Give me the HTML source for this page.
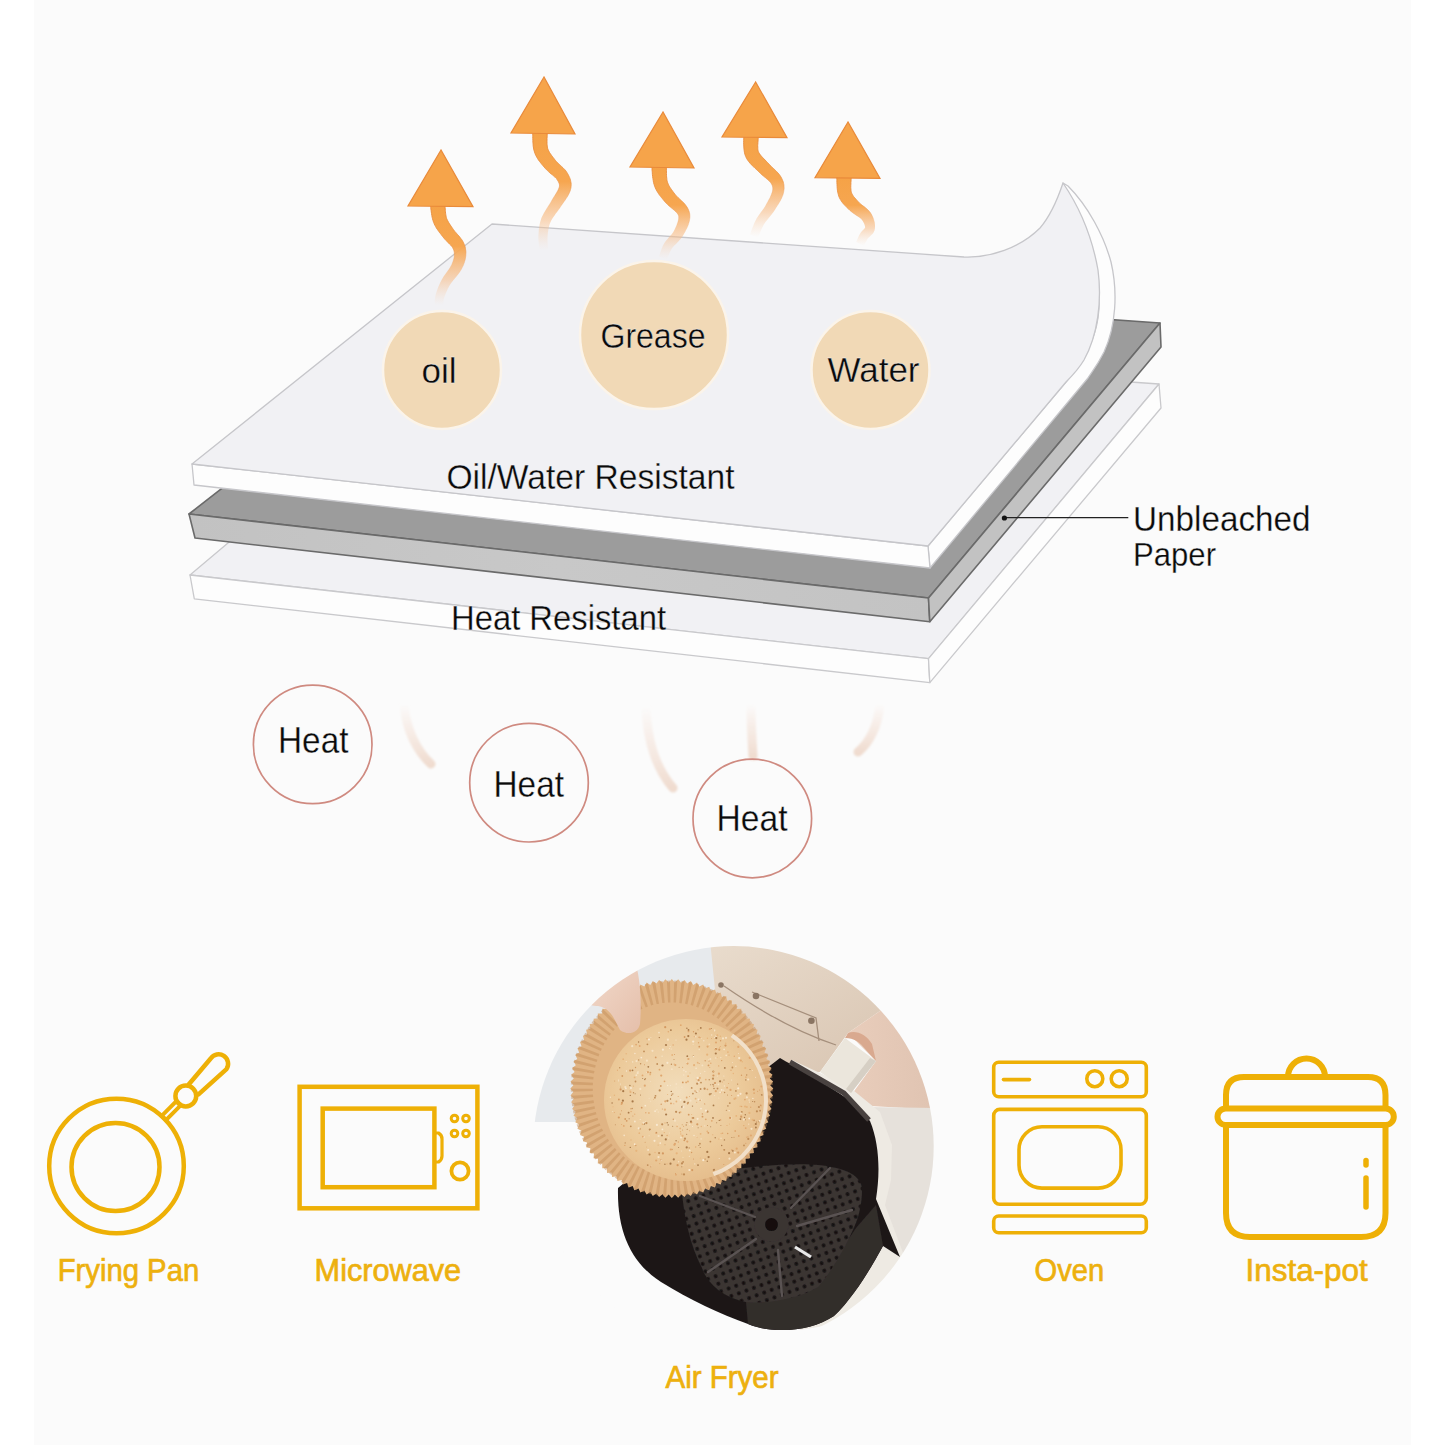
<!DOCTYPE html>
<html><head><meta charset="utf-8">
<style>
html,body{margin:0;padding:0;background:#ffffff;width:1445px;height:1445px;overflow:hidden}
svg{display:block;position:absolute;left:0;top:0}
text{font-family:"Liberation Sans",sans-serif}
</style></head>
<body>
<svg width="1445" height="1445" viewBox="0 0 1445 1445">
<defs>
  <linearGradient id="stemfade" x1="0" y1="0" x2="0" y2="1">
    <stop offset="0" stop-color="#f5a043" stop-opacity="1"/>
    <stop offset="0.45" stop-color="#f6a650" stop-opacity="0.95"/>
    <stop offset="1" stop-color="#f8c8a0" stop-opacity="0"/>
  </linearGradient>
  <linearGradient id="grayfront" x1="0" y1="0" x2="1" y2="0">
    <stop offset="0" stop-color="#c2c2c2"/>
    <stop offset="0.5" stop-color="#c8c8c8"/>
    <stop offset="1" stop-color="#c3c3c3"/>
  </linearGradient>
  <linearGradient id="wavegrad" x1="0" y1="0" x2="0" y2="1">
    <stop offset="0" stop-color="#f6e4da" stop-opacity="0"/>
    <stop offset="0.45" stop-color="#f5e6de" stop-opacity="0.7"/>
    <stop offset="1" stop-color="#efdacd" stop-opacity="0.95"/>
  </linearGradient>
  <filter id="softblur" x="-50%" y="-20%" width="200%" height="140%"><feGaussianBlur stdDeviation="1.1"/></filter>
  <linearGradient id="stemfade2" x1="0" y1="0" x2="0" y2="1">
    <stop offset="0" stop-color="#f5a246" stop-opacity="1"/>
    <stop offset="0.42" stop-color="#f6a650" stop-opacity="1"/>
    <stop offset="0.75" stop-color="#f7bb85" stop-opacity="0.55"/>
    <stop offset="1" stop-color="#f9d5b8" stop-opacity="0"/>
  </linearGradient>
  <linearGradient id="stemline" x1="0" y1="0" x2="0" y2="1">
    <stop offset="0" stop-color="#e88a38" stop-opacity="1"/>
    <stop offset="0.45" stop-color="#ea9448" stop-opacity="0.7"/>
    <stop offset="0.7" stop-color="#f0b080" stop-opacity="0"/>
  </linearGradient>
  <filter id="photoblur" x="-5%" y="-5%" width="110%" height="110%"><feGaussianBlur stdDeviation="0.7"/></filter>
  <clipPath id="photoclip"><circle cx="733.5" cy="1146.3" r="200.2"/></clipPath>
  <linearGradient id="aprongrad" x1="0" y1="0" x2="1" y2="1">
    <stop offset="0" stop-color="#e9dccd"/><stop offset="1" stop-color="#d6c1ad"/>
  </linearGradient>
  <linearGradient id="armgrad" x1="0" y1="0" x2="1" y2="0">
    <stop offset="0" stop-color="#e9cdbb"/><stop offset="1" stop-color="#dfc3b1"/>
  </linearGradient>
  <linearGradient id="handgrad" x1="0" y1="0" x2="1" y2="1">
    <stop offset="0" stop-color="#f3ddd0"/><stop offset="1" stop-color="#e5bfaa"/>
  </linearGradient>
  <radialGradient id="toastgrad" cx="0.45" cy="0.45" r="0.6">
    <stop offset="0" stop-color="#f2ddbb"/><stop offset="0.65" stop-color="#ecca9a"/><stop offset="1" stop-color="#e4bb8a"/>
  </radialGradient>
  <pattern id="perf" x="0" y="0" width="8" height="8" patternUnits="userSpaceOnUse" patternTransform="rotate(-20)">
    <rect width="8" height="8" fill="#3a3432"/><circle cx="4" cy="4" r="1.9" fill="#151111"/>
  </pattern>
</defs>
<rect x="0" y="0" width="1445" height="1445" fill="#ffffff"/>
<rect x="34" y="0" width="1377" height="1445" fill="#fbfbfb"/>

<!-- ===== Bottom layer (heat resistant) ===== -->
<g stroke="#c9c9cc" stroke-width="1.3" stroke-linejoin="round">
  <polygon points="190,575 474,336 1159,384 928.5,658.7" fill="#f1f1f4"/>
  <polygon points="190,575 928.5,658.7 929.8,682.6 194.3,598.8" fill="#fdfdfd"/>
  <polygon points="928.5,658.7 1159,384 1161,408 929.8,682.6" fill="#fdfdfd"/>
</g>
<!-- ===== Gray layer ===== -->
<g stroke="#6a6a6a" stroke-width="1.6" stroke-linejoin="round">
  <polygon points="189,514 494,276 1160,323 928.5,598" fill="#9c9c9c"/>
  <polygon points="189,514 928.5,598 929.8,621.7 195,538" fill="url(#grayfront)"/>
  <polygon points="928.5,598 1160,323 1161,347 929.8,621.7" fill="#c2c2c2"/>
</g>
<!-- ===== Top layer (curled) ===== -->
<g stroke="#c6c6ca" stroke-width="1.3" stroke-linejoin="round">
  <!-- right side face band -->
  <path d="M928,546 L1066,382 C1080,366 1094,345 1098,318 C1102,290 1096,250 1082,220 L1063,183 L1068,186 C1088,206 1104,236 1111,262 C1118,292 1116,326 1104,352 C1096,368 1090,374 1088,378 L930,568 Z" fill="#fdfdfd"/>
  <!-- front face -->
  <polygon points="192,464 928,546 930,568 194,485" fill="#fdfdfd"/>
  <!-- top face -->
  <path d="M192,464 L492,224 L964,257 C990,258 1020,248 1040,228 C1052,214 1058,198 1063,183 C1078,205 1092,236 1098,270 C1102,300 1098,335 1084,360 C1078,370 1072,376 1066,382 L928,546 Z" fill="#f1f1f4"/>
</g>

<!-- ===== arrows ===== -->
<g id="arrows">
<path d="M430.4,204.9 L430.5,205.6 L430.6,206.4 L430.8,207.6 L430.9,208.9 L431.1,210.4 L431.3,212.0 L431.5,213.6 L431.8,215.3 L432.1,217.1 L432.5,218.8 L433.0,220.6 L433.6,222.3 L434.2,223.8 L434.9,225.3 L435.6,226.6 L436.4,228.0 L437.2,229.2 L438.0,230.4 L438.8,231.5 L439.6,232.7 L440.5,233.7 L441.3,234.8 L442.0,235.8 L442.9,236.8 L443.8,238.0 L444.8,239.2 L445.9,240.3 L446.9,241.4 L447.9,242.4 L448.8,243.4 L449.7,244.3 L450.6,245.1 L451.3,245.9 L451.9,246.6 L452.4,247.3 L452.7,247.8 L453.0,248.4 L453.3,249.1 L453.6,249.7 L453.8,250.3 L454.0,250.9 L454.1,251.4 L454.2,252.0 L454.3,252.7 L454.3,253.3 L454.4,254.0 L454.4,254.7 L454.3,255.5 L454.3,256.2 L454.2,257.0 L454.1,257.7 L453.9,258.5 L453.7,259.2 L453.5,260.0 L453.2,260.9 L452.9,261.7 L452.6,262.6 L452.2,263.5 L451.8,264.5 L451.3,265.4 L450.8,266.3 L450.3,267.2 L449.6,268.3 L448.8,269.4 L448.0,270.5 L447.1,271.7 L446.2,272.9 L445.2,274.2 L444.3,275.5 L443.4,276.8 L442.6,278.2 L441.8,279.5 L441.1,280.9 L440.4,282.2 L439.8,283.5 L439.2,284.9 L438.6,286.2 L438.1,287.5 L437.6,288.8 L437.2,290.1 L436.7,291.3 L436.4,292.5 L436.0,293.6 L435.7,294.7 L435.4,295.9 L435.2,297.0 L435.0,298.2 L434.9,299.2 L434.8,300.2 L434.8,301.1 L434.8,302.0 L434.8,302.8 L434.8,303.4 L434.8,304.0 L434.8,304.3 L434.8,304.7 L443.2,305.3 L443.3,304.8 L443.3,304.2 L443.4,303.6 L443.4,302.9 L443.4,302.3 L443.5,301.6 L443.5,300.9 L443.6,300.2 L443.7,299.5 L443.9,298.7 L444.1,298.0 L444.3,297.3 L444.6,296.4 L445.0,295.4 L445.4,294.4 L445.8,293.3 L446.3,292.2 L446.8,291.1 L447.3,290.0 L447.8,288.8 L448.4,287.7 L449.0,286.6 L449.6,285.5 L450.2,284.5 L450.9,283.5 L451.6,282.5 L452.4,281.4 L453.3,280.3 L454.2,279.2 L455.2,278.0 L456.1,276.9 L457.1,275.7 L458.1,274.4 L459.0,273.2 L459.9,271.9 L460.7,270.6 L461.4,269.4 L462.0,268.2 L462.5,267.1 L463.1,265.9 L463.6,264.7 L464.0,263.6 L464.4,262.4 L464.7,261.2 L465.1,260.1 L465.3,258.9 L465.5,257.7 L465.7,256.5 L465.8,255.4 L465.8,254.2 L465.9,253.1 L465.9,251.9 L465.8,250.8 L465.6,249.6 L465.4,248.3 L465.2,247.1 L464.8,245.9 L464.4,244.7 L463.9,243.5 L463.3,242.2 L462.5,240.8 L461.7,239.5 L460.7,238.3 L459.8,237.1 L458.9,236.0 L457.9,234.9 L457.0,233.9 L456.1,232.8 L455.2,231.9 L454.5,230.9 L453.8,230.1 L453.1,229.2 L452.5,228.2 L451.7,227.1 L451.0,226.1 L450.3,225.0 L449.7,224.1 L449.0,223.1 L448.5,222.2 L448.0,221.2 L447.5,220.3 L447.1,219.4 L446.7,218.6 L446.4,217.7 L446.2,216.9 L446.0,215.8 L445.8,214.6 L445.6,213.3 L445.4,211.8 L445.3,210.4 L445.2,209.0 L445.1,207.6 L445.0,206.3 L445.0,205.1 L444.9,204.0 L444.8,203.1Z" fill="url(#stemfade2)" stroke="url(#stemline)" stroke-width="1"/>
<polygon points="441,150 408,206 473,206.6" fill="#f6a44a" stroke="#e98a3a" stroke-width="1.2"/>
<path d="M532.8,132.2 L532.8,132.9 L532.8,133.9 L532.8,135.2 L532.8,136.7 L532.8,138.4 L532.9,140.2 L532.9,142.1 L533.1,144.0 L533.2,146.0 L533.5,148.0 L533.9,150.0 L534.5,152.0 L535.1,153.8 L535.8,155.4 L536.7,157.0 L537.5,158.5 L538.4,159.9 L539.4,161.2 L540.3,162.4 L541.3,163.7 L542.2,164.8 L543.2,165.9 L544.1,167.0 L545.0,168.1 L546.2,169.4 L547.4,170.6 L548.7,171.8 L549.9,172.9 L551.1,173.9 L552.3,174.8 L553.3,175.7 L554.3,176.6 L555.2,177.4 L555.9,178.1 L556.5,178.7 L556.9,179.3 L557.4,180.1 L557.9,180.9 L558.3,181.6 L558.6,182.3 L558.9,182.9 L559.1,183.4 L559.3,183.9 L559.4,184.4 L559.4,184.9 L559.5,185.5 L559.4,186.1 L559.4,186.7 L559.2,187.4 L558.9,188.2 L558.5,189.2 L558.0,190.3 L557.3,191.5 L556.6,192.8 L555.8,194.1 L554.9,195.5 L554.0,196.9 L553.1,198.3 L552.2,199.8 L551.4,201.2 L550.7,202.5 L549.9,203.7 L549.1,205.0 L548.2,206.3 L547.3,207.7 L546.4,209.1 L545.5,210.5 L544.6,211.9 L543.7,213.4 L542.9,215.0 L542.1,216.5 L541.4,218.1 L540.9,219.7 L540.4,221.3 L540.0,222.8 L539.6,224.4 L539.4,225.9 L539.1,227.4 L538.9,228.8 L538.8,230.3 L538.7,231.7 L538.6,233.1 L538.5,234.4 L538.4,235.7 L538.4,237.2 L538.4,238.7 L538.5,240.2 L538.6,241.6 L538.8,243.1 L538.9,244.5 L539.1,245.8 L539.3,247.0 L539.5,248.1 L539.6,249.0 L539.7,249.8 L539.8,250.4 L548.2,249.6 L548.2,248.9 L548.1,248.0 L548.0,247.0 L547.9,245.9 L547.8,244.8 L547.7,243.5 L547.6,242.3 L547.5,241.0 L547.5,239.8 L547.5,238.5 L547.5,237.4 L547.6,236.3 L547.7,235.1 L547.8,233.8 L547.9,232.6 L548.1,231.4 L548.3,230.1 L548.5,228.9 L548.7,227.7 L549.0,226.5 L549.3,225.3 L549.7,224.1 L550.1,223.0 L550.6,221.9 L551.1,220.8 L551.7,219.7 L552.4,218.6 L553.1,217.4 L554.0,216.2 L554.9,214.9 L555.8,213.6 L556.8,212.3 L557.7,211.0 L558.7,209.6 L559.7,208.2 L560.6,206.8 L561.4,205.5 L562.3,204.2 L563.2,202.9 L564.1,201.6 L565.1,200.2 L566.0,198.7 L567.0,197.3 L567.9,195.8 L568.7,194.2 L569.5,192.6 L570.1,191.0 L570.6,189.3 L571.0,187.6 L571.1,186.1 L571.2,184.5 L571.1,183.0 L570.8,181.5 L570.5,180.1 L570.1,178.7 L569.6,177.4 L569.0,176.2 L568.4,175.0 L567.8,173.9 L567.1,172.7 L566.2,171.3 L565.1,169.9 L563.9,168.7 L562.8,167.6 L561.6,166.5 L560.5,165.4 L559.4,164.4 L558.3,163.4 L557.3,162.5 L556.4,161.6 L555.7,160.7 L555.0,159.9 L554.2,158.8 L553.3,157.7 L552.5,156.6 L551.7,155.6 L551.0,154.6 L550.3,153.6 L549.6,152.6 L549.1,151.6 L548.6,150.7 L548.2,149.8 L547.8,148.9 L547.5,148.0 L547.4,147.1 L547.2,146.0 L547.1,144.7 L547.0,143.2 L547.0,141.7 L547.0,140.1 L547.0,138.5 L547.1,136.9 L547.2,135.5 L547.2,134.1 L547.3,132.8 L547.2,131.8Z" fill="url(#stemfade2)" stroke="url(#stemline)" stroke-width="1"/>
<polygon points="544,77 511,133 575,134" fill="#f6a44a" stroke="#e98a3a" stroke-width="1.2"/>
<path d="M651.8,166.6 L651.9,167.4 L652.0,168.4 L652.0,169.6 L652.2,171.1 L652.3,172.8 L652.4,174.6 L652.6,176.5 L652.9,178.4 L653.2,180.4 L653.5,182.3 L654.0,184.3 L654.6,186.1 L655.3,187.9 L656.0,189.4 L656.9,191.0 L657.7,192.4 L658.6,193.8 L659.5,195.1 L660.5,196.3 L661.4,197.5 L662.4,198.7 L663.3,199.8 L664.2,200.9 L665.2,202.0 L666.3,203.3 L667.6,204.5 L668.8,205.7 L670.1,206.7 L671.3,207.8 L672.5,208.8 L673.6,209.7 L674.6,210.5 L675.5,211.4 L676.2,212.1 L676.8,212.7 L677.2,213.2 L677.6,213.8 L677.9,214.3 L678.2,214.8 L678.4,215.2 L678.5,215.6 L678.6,215.9 L678.7,216.3 L678.7,216.6 L678.7,217.1 L678.7,217.7 L678.7,218.3 L678.6,219.0 L678.5,219.8 L678.3,220.6 L678.0,221.6 L677.7,222.6 L677.3,223.6 L676.9,224.7 L676.4,225.9 L675.9,227.0 L675.4,228.1 L674.8,229.2 L674.3,230.3 L673.7,231.3 L673.2,232.2 L672.6,233.0 L671.9,233.9 L671.1,234.9 L670.3,235.8 L669.4,236.8 L668.5,237.8 L667.6,238.9 L666.7,240.0 L665.8,241.1 L664.9,242.3 L664.1,243.5 L663.4,244.8 L662.7,246.1 L662.2,247.4 L661.6,248.7 L661.2,250.0 L660.7,251.2 L660.4,252.4 L660.0,253.5 L659.7,254.4 L659.4,255.3 L659.2,255.9 L659.0,256.5 L667.0,259.5 L667.2,258.9 L667.5,258.1 L667.9,257.3 L668.2,256.3 L668.6,255.3 L669.0,254.3 L669.4,253.2 L669.9,252.2 L670.4,251.1 L670.9,250.2 L671.4,249.3 L671.9,248.5 L672.4,247.7 L673.1,247.0 L673.8,246.1 L674.6,245.3 L675.5,244.4 L676.5,243.4 L677.4,242.5 L678.4,241.4 L679.4,240.3 L680.4,239.2 L681.4,238.0 L682.3,236.7 L683.1,235.5 L683.8,234.2 L684.5,233.0 L685.3,231.7 L685.9,230.3 L686.6,229.0 L687.2,227.7 L687.8,226.3 L688.3,225.0 L688.7,223.6 L689.1,222.3 L689.4,221.0 L689.6,219.7 L689.8,218.6 L689.9,217.4 L689.9,216.2 L689.8,215.0 L689.7,213.8 L689.4,212.6 L689.1,211.4 L688.6,210.3 L688.1,209.1 L687.5,208.0 L686.8,206.8 L685.9,205.5 L684.9,204.2 L683.8,203.0 L682.7,201.9 L681.6,200.8 L680.4,199.7 L679.3,198.7 L678.2,197.7 L677.2,196.7 L676.3,195.8 L675.5,194.9 L674.8,194.0 L674.0,193.0 L673.2,191.9 L672.4,190.8 L671.6,189.7 L670.9,188.7 L670.2,187.7 L669.6,186.7 L669.0,185.7 L668.5,184.7 L668.1,183.7 L667.7,182.8 L667.4,181.9 L667.1,180.9 L666.9,179.7 L666.8,178.4 L666.6,176.9 L666.5,175.3 L666.4,173.7 L666.4,172.0 L666.4,170.5 L666.3,169.0 L666.3,167.6 L666.3,166.4 L666.2,165.4Z" fill="url(#stemfade2)" stroke="url(#stemline)" stroke-width="1"/>
<polygon points="663,112 630,167 694,168" fill="#f6a44a" stroke="#e98a3a" stroke-width="1.2"/>
<path d="M743.8,136.1 L743.8,136.8 L743.8,137.7 L743.8,139.0 L743.7,140.5 L743.7,142.2 L743.7,144.1 L743.8,146.0 L743.9,148.0 L744.1,150.1 L744.4,152.2 L744.9,154.4 L745.7,156.5 L746.6,158.5 L747.7,160.2 L748.9,161.8 L750.1,163.3 L751.3,164.7 L752.6,165.9 L753.9,167.1 L755.1,168.3 L756.3,169.4 L757.4,170.4 L758.4,171.4 L759.4,172.4 L760.6,173.5 L761.8,174.7 L763.1,175.7 L764.3,176.8 L765.5,177.7 L766.6,178.7 L767.6,179.5 L768.6,180.4 L769.4,181.1 L770.0,181.8 L770.6,182.4 L771.0,183.0 L771.4,183.7 L771.8,184.4 L772.1,185.0 L772.3,185.6 L772.5,186.2 L772.6,186.7 L772.7,187.3 L772.8,187.9 L772.8,188.5 L772.8,189.2 L772.7,190.0 L772.6,190.8 L772.4,191.6 L772.1,192.6 L771.7,193.6 L771.3,194.8 L770.7,196.1 L770.1,197.4 L769.4,198.7 L768.6,200.0 L767.9,201.4 L767.1,202.7 L766.4,204.1 L765.7,205.3 L765.0,206.5 L764.3,207.6 L763.5,208.7 L762.7,209.8 L761.9,211.0 L761.0,212.1 L760.2,213.3 L759.3,214.5 L758.4,215.8 L757.6,217.0 L756.7,218.3 L756.0,219.7 L755.3,221.1 L754.6,222.5 L753.9,224.0 L753.4,225.4 L752.8,226.8 L752.3,228.2 L751.8,229.6 L751.3,230.8 L750.9,231.9 L750.6,232.9 L750.3,233.7 L750.1,234.4 L757.9,237.6 L758.2,236.9 L758.6,236.0 L759.0,235.0 L759.5,233.9 L760.0,232.7 L760.5,231.5 L761.0,230.2 L761.6,229.0 L762.2,227.7 L762.8,226.5 L763.4,225.3 L764.0,224.3 L764.7,223.3 L765.3,222.3 L766.1,221.3 L766.9,220.3 L767.8,219.2 L768.7,218.1 L769.6,217.0 L770.6,215.8 L771.6,214.6 L772.5,213.3 L773.5,212.0 L774.3,210.7 L775.2,209.4 L776.0,208.1 L776.9,206.7 L777.7,205.3 L778.6,203.9 L779.4,202.4 L780.3,200.9 L781.0,199.4 L781.8,197.9 L782.4,196.3 L783.0,194.8 L783.4,193.2 L783.7,191.8 L783.9,190.3 L784.1,188.9 L784.1,187.5 L784.0,186.2 L783.9,184.8 L783.6,183.4 L783.3,182.1 L782.8,180.8 L782.3,179.5 L781.7,178.3 L781.0,177.0 L780.1,175.6 L779.1,174.2 L778.0,173.0 L776.9,171.8 L775.8,170.7 L774.7,169.6 L773.5,168.5 L772.4,167.5 L771.4,166.5 L770.4,165.6 L769.5,164.6 L768.6,163.6 L767.5,162.5 L766.3,161.3 L765.2,160.1 L764.1,159.0 L763.0,157.9 L762.0,156.8 L761.1,155.8 L760.3,154.8 L759.6,153.8 L759.0,153.0 L758.6,152.2 L758.3,151.5 L758.1,150.8 L757.9,149.8 L757.8,148.6 L757.8,147.2 L757.7,145.7 L757.8,144.2 L757.9,142.6 L758.0,141.1 L758.1,139.7 L758.2,138.3 L758.2,136.9 L758.2,135.9Z" fill="url(#stemfade2)" stroke="url(#stemline)" stroke-width="1"/>
<polygon points="755.6,82 722,137 787,137.6" fill="#f6a44a" stroke="#e98a3a" stroke-width="1.2"/>
<path d="M836.8,176.2 L836.8,176.9 L836.8,177.9 L836.9,179.2 L836.9,180.8 L836.9,182.5 L837.0,184.3 L837.1,186.2 L837.2,188.2 L837.4,190.1 L837.7,192.1 L838.2,194.1 L838.7,196.0 L839.4,197.8 L840.2,199.3 L841.1,200.8 L842.0,202.1 L843.0,203.4 L844.0,204.5 L845.0,205.6 L846.0,206.6 L846.9,207.6 L847.9,208.5 L848.8,209.3 L849.7,210.2 L850.9,211.3 L852.2,212.3 L853.4,213.3 L854.6,214.1 L855.8,214.9 L857.0,215.7 L858.1,216.4 L859.0,217.0 L859.9,217.7 L860.6,218.2 L861.2,218.8 L861.6,219.3 L862.1,219.9 L862.6,220.6 L863.1,221.4 L863.5,222.2 L863.9,223.0 L864.2,223.8 L864.5,224.5 L864.7,225.3 L864.9,226.0 L865.0,226.6 L865.1,227.1 L865.1,227.4 L865.1,227.5 L865.1,227.5 L865.0,227.7 L864.9,228.0 L864.5,228.4 L864.1,228.9 L863.6,229.5 L863.0,230.1 L862.3,230.8 L861.6,231.6 L860.8,232.5 L860.2,233.5 L859.6,234.4 L859.2,235.3 L858.8,236.1 L858.4,237.0 L858.0,237.8 L857.7,238.6 L857.3,239.4 L857.0,240.1 L856.8,240.8 L856.5,241.3 L856.3,241.8 L856.2,242.1 L863.8,245.9 L864.0,245.4 L864.3,244.9 L864.6,244.4 L864.9,243.7 L865.2,243.1 L865.6,242.4 L866.0,241.7 L866.4,241.0 L866.7,240.3 L867.1,239.6 L867.5,239.0 L867.8,238.5 L868.1,238.2 L868.4,237.8 L868.9,237.4 L869.5,236.9 L870.2,236.3 L870.9,235.6 L871.7,234.8 L872.5,233.9 L873.3,232.9 L874.0,231.6 L874.6,230.2 L874.9,228.6 L875.0,227.1 L875.0,225.8 L874.9,224.5 L874.7,223.1 L874.4,221.8 L874.0,220.5 L873.6,219.2 L873.1,217.8 L872.5,216.5 L871.9,215.3 L871.2,214.0 L870.4,212.7 L869.4,211.5 L868.2,210.2 L867.1,209.2 L865.9,208.2 L864.8,207.2 L863.6,206.3 L862.5,205.5 L861.5,204.7 L860.5,203.9 L859.7,203.2 L859.0,202.5 L858.3,201.8 L857.5,200.9 L856.6,199.9 L855.8,199.0 L855.0,198.1 L854.3,197.3 L853.6,196.5 L853.1,195.7 L852.6,194.9 L852.1,194.1 L851.8,193.4 L851.5,192.7 L851.3,192.0 L851.1,191.2 L851.0,190.2 L850.9,188.9 L850.8,187.4 L850.8,185.8 L850.9,184.2 L850.9,182.6 L851.0,181.0 L851.1,179.5 L851.2,178.1 L851.2,176.8 L851.2,175.8Z" fill="url(#stemfade2)" stroke="url(#stemline)" stroke-width="1"/>
<polygon points="848,122 815,177.6 880,178.4" fill="#f6a44a" stroke="#e98a3a" stroke-width="1.2"/>
</g>

<!-- ===== circles ===== -->
<g stroke="#fbf4ea" stroke-width="2.5">
  <circle cx="442" cy="370" r="59" fill="#f1d9b6"/>
  <circle cx="654" cy="335" r="74" fill="#f1d9b6"/>
  <circle cx="870.5" cy="370" r="59" fill="#f1d9b6"/>
</g>
<g fill="#0a0a0a" stroke="#f4f4f6" stroke-width="0.3">
  <text x="421.5" y="383" font-size="35.5" textLength="35" lengthAdjust="spacingAndGlyphs">oil</text>
  <text x="600.5" y="348.3" font-size="35.5" textLength="105" lengthAdjust="spacingAndGlyphs">Grease</text>
  <text x="827.5" y="381.5" font-size="34.5" textLength="92" lengthAdjust="spacingAndGlyphs">Water</text>
  <text x="446.5" y="489" font-size="34.5" textLength="288" lengthAdjust="spacingAndGlyphs">Oil/Water Resistant</text>
  <text x="451" y="630" font-size="34.5" textLength="215" lengthAdjust="spacingAndGlyphs">Heat Resistant</text>
  <text x="1133" y="530.8" font-size="34.5" textLength="177.5" lengthAdjust="spacingAndGlyphs">Unbleached</text>
  <text x="1133" y="566.1" font-size="33.5" textLength="83" lengthAdjust="spacingAndGlyphs">Paper</text>
</g>
<line x1="1004.4" y1="517.7" x2="1128.3" y2="517.7" stroke="#222" stroke-width="1.3"/>
<circle cx="1004.4" cy="518" r="2.6" fill="#111"/>

<!-- ===== heat ===== -->
<!-- heat waves -->
<g fill="none" stroke="url(#wavegrad)" stroke-width="9" stroke-linecap="round" filter="url(#softblur)">
  <path d="M404,704 C406,730 417,751 431,764"/>
  <path d="M646,706 C647,745 659,772 673,788"/>
  <path d="M751,704 C751,724 752,740 753,756"/>
  <path d="M880,704 C878,724 871,741 858,752"/>
</g>

<g fill="none" stroke="#cf8a80" stroke-width="1.7">
  <circle cx="312.7" cy="744.4" r="59.3"/>
  <circle cx="529" cy="782.7" r="59.3"/>
  <circle cx="752.3" cy="818.5" r="59.3"/>
</g>
<g fill="#0a0a0a" stroke="#fbfbfb" stroke-width="0.3">
  <text x="278" y="752.7" font-size="36.5" textLength="70.5" lengthAdjust="spacingAndGlyphs">Heat</text>
  <text x="493.5" y="796.6" font-size="36.5" textLength="70.5" lengthAdjust="spacingAndGlyphs">Heat</text>
  <text x="716.5" y="831.3" font-size="36.5" textLength="71" lengthAdjust="spacingAndGlyphs">Heat</text>
</g>


<!-- ===== icons ===== -->
<g fill="none" stroke="#eeb006" stroke-width="4.5" stroke-linecap="round" stroke-linejoin="round">
  <!-- frying pan -->
  <circle cx="116.5" cy="1166" r="67.3"/>
  <circle cx="115.5" cy="1167" r="44"/>
  <circle cx="185.8" cy="1096" r="10.4"/>
  <path d="M188.7,1084.5 L210.7,1058.5 A9.5,9.5 0 0 1 226.5,1069.1 L198.5,1094.3"/>
  <g transform="translate(185.8,1096) rotate(-45)">
    <rect x="-31" y="-3" width="21" height="6" stroke-width="4"/>
  </g>
  <!-- microwave -->
  <g stroke-linejoin="miter">
  <rect x="299.6" y="1086.8" width="177.8" height="121.5"/>
  <rect x="322.7" y="1108.6" width="111.7" height="78.6"/>
  </g>
  <path d="M436,1133 L438.5,1133 Q442,1135 442,1139 L442,1156 Q442,1160 438.5,1162 L436,1162" stroke-width="3.2"/>
  <g stroke-width="3"><circle cx="454.5" cy="1118.5" r="3.3"/><circle cx="466" cy="1118.5" r="3.3"/><circle cx="454.5" cy="1133.5" r="3.3"/><circle cx="466" cy="1133.5" r="3.3"/></g>
  <circle cx="460" cy="1171" r="8.6" stroke-width="3.8"/>
  <!-- oven -->
  <g stroke-width="3.6">
  <rect x="993.7" y="1062.3" width="152.6" height="34.4" rx="5"/>
  <line x1="1003.5" y1="1079.6" x2="1029.5" y2="1079.6"/>
  <circle cx="1094.8" cy="1078.7" r="8"/>
  <circle cx="1119.2" cy="1078.7" r="8"/>
  <rect x="993.7" y="1109.4" width="152.6" height="94.8" rx="6"/>
  <rect x="1019" y="1126.8" width="102" height="61.3" rx="23"/>
  <rect x="993.7" y="1216" width="152.6" height="16.8" rx="5"/>
  </g>
  <!-- insta-pot -->
  <g stroke-width="6">
  <path d="M1288,1077 A18.5,18.5 0 0 1 1325,1077"/>
  <path d="M1226,1108 L1226,1095 Q1226,1077 1244,1077 L1368,1077 Q1385.5,1077 1385.5,1095 L1385.5,1108"/>
  <rect x="1217.5" y="1108.5" width="176.3" height="16.4" rx="8.2"/>
  <path d="M1226,1126 L1226,1213 Q1226,1237 1250,1237 L1361,1237 Q1385.5,1237 1385.5,1213 L1385.5,1126"/>
  <line x1="1366" y1="1178" x2="1366" y2="1207" stroke-width="5.5"/>
  <line x1="1366" y1="1160.5" x2="1366" y2="1165" stroke-width="5.5"/>
  </g>
</g>
<g fill="#edb00e" stroke="#edb00e" stroke-width="0.7">
  <text x="57.7" y="1280.5" font-size="31" textLength="141.5" lengthAdjust="spacingAndGlyphs">Frying Pan</text>
  <text x="314.6" y="1280.5" font-size="31" textLength="146.6" lengthAdjust="spacingAndGlyphs">Microwave</text>
  <text x="1034.6" y="1281" font-size="31" textLength="69.6" lengthAdjust="spacingAndGlyphs">Oven</text>
  <text x="1245.6" y="1281" font-size="31" textLength="122" lengthAdjust="spacingAndGlyphs">Insta-pot</text>
  <text x="665.5" y="1388" font-size="31" textLength="113" lengthAdjust="spacingAndGlyphs">Air Fryer</text>
</g>

<!-- ===== photo ===== -->
<g clip-path="url(#photoclip)">
  <rect x="530" y="940" width="410" height="410" fill="#fbfbfb"/>
  <g filter="url(#photoblur)">
  <!-- wall -->
  <path d="M530,940 L712,940 L716,1000 L736,1060 L700,1122 L530,1122 Z" fill="#e7eaed"/>
  <!-- apron -->
  <path d="M710,940 L940,940 L940,1000 L880,1011 L848,1033 L820,1072 L790,1075 L736,1078 L716,1000 Z" fill="url(#aprongrad)"/>
  <path d="M724,986 C750,1004 790,1030 836,1045" fill="none" stroke="#a58f7c" stroke-width="1.3"/>
  <circle cx="721" cy="985" r="2.8" fill="#8a7563"/>
  <path d="M752,992 L816,1018 L819,1041" fill="none" stroke="#a58f7c" stroke-width="1.3"/>
  <circle cx="756" cy="996" r="3.3" fill="#8a7563"/>
  <circle cx="811.4" cy="1020.7" r="3.3" fill="#8a7563"/>
  <!-- arm -->
  <path d="M848,1033 L880,1011 L940,993 L940,1110 L870,1106 L852,1094 L876,1061 Z" fill="url(#armgrad)"/>
  <!-- right table -->
  <path d="M866,1107 L940,1108 L940,1262 L900,1257 L878,1200 L886,1168 L880,1125 Z" fill="#e6e1db"/>
  <!-- cream fryer wall -->
  <path d="M792,1060 L848,1086 L880,1112 L892,1145 L891,1180 L885,1205 L905,1258 L880,1290 L836,1324 L800,1330 L780,1080 Z" fill="#eeeae3"/>
  <!-- basket body -->
  <path d="M618,1188 C617,1230 630,1262 661,1282 C690,1300 720,1314 748,1324 C772,1334 810,1332 834,1316 C855,1296 872,1266 883,1246 L900,1257 L876,1199 C880,1175 880,1145 870,1121 C858,1104 845,1095 780,1058 L700,1120 Z" fill="#1d1919"/>
  <path d="M746,1302 C790,1294 830,1270 856,1228 L876,1205 L883,1246 C872,1266 855,1296 834,1316 C810,1332 772,1334 748,1324 Z" fill="#332d2b"/>
  <!-- tray -->
  <path d="M681,1180 C720,1168 790,1162 818,1165 C845,1168 862,1175 862,1190 C862,1205 858,1220 852,1232 C840,1258 828,1275 818,1287 C800,1298 770,1304 746,1302 C725,1298 708,1285 702,1268 C690,1245 683,1215 681,1180 Z" fill="url(#perf)"/>
  <g stroke="#5a5352" stroke-width="2.4" stroke-linecap="round">
    <line x1="755" y1="1217" x2="700" y2="1196"/>
    <line x1="756" y1="1239" x2="708" y2="1272"/>
    <line x1="778" y1="1250" x2="782" y2="1296"/>
    <line x1="797" y1="1226" x2="852" y2="1210"/>
    <line x1="791" y1="1208" x2="830" y2="1168"/>
  </g>
  <circle cx="771.5" cy="1224.6" r="17" fill="#3b3433"/>
  <circle cx="771.5" cy="1224.6" r="6.5" fill="#121010"/>
  <line x1="795" y1="1247" x2="811" y2="1257" stroke="#e8e8e8" stroke-width="3.2"/>
  <!-- rim highlight -->
  <path d="M790,1062 L844,1093 L869,1120" fill="none" stroke="#4a4240" stroke-width="5"/>
  <!-- handle -->
  <path d="M845,1038 L876,1061 L851,1093 L820,1072 Z" fill="#ebe6dc"/>
  <path d="M876,1061 L851,1093 L846,1089 L870,1058 Z" fill="#d6cfc4"/>
  <path d="M848,1033 C856,1030 866,1034 872,1044 L876,1061 L866,1050 C860,1042 854,1038 845,1038 Z" fill="#d9a98f"/>
  <!-- liner -->
  <path d="M773.3,1088.5 L770.2,1091.8 L773.1,1095.4 L769.8,1098.5 L772.5,1102.2 L769.0,1105.1 L771.5,1109.0 L767.8,1111.7 L770.1,1115.7 L766.3,1118.1 L768.3,1122.3 L764.4,1124.5 L766.2,1128.8 L762.1,1130.7 L763.6,1135.1 L759.5,1136.7 L760.7,1141.3 L756.5,1142.5 L757.5,1147.2 L753.2,1148.2 L753.9,1152.9 L749.6,1153.6 L750.0,1158.3 L745.6,1158.7 L745.8,1163.5 L741.4,1163.6 L741.3,1168.3 L736.9,1168.1 L736.5,1172.9 L732.1,1172.4 L731.5,1177.1 L727.1,1176.3 L726.2,1181.0 L721.9,1179.9 L720.7,1184.5 L716.5,1183.1 L715.0,1187.6 L710.9,1185.9 L709.2,1190.3 L705.1,1188.4 L703.2,1192.6 L699.3,1190.4 L697.0,1194.6 L693.3,1192.1 L690.8,1196.1 L687.2,1193.4 L684.5,1197.1 L681.1,1194.2 L678.2,1197.8 L674.9,1194.6 L671.8,1198.0 L668.7,1194.6 L665.4,1197.8 L662.5,1194.2 L659.1,1197.1 L656.4,1193.4 L652.8,1196.1 L650.3,1192.1 L646.6,1194.6 L644.3,1190.4 L640.4,1192.6 L638.5,1188.4 L634.4,1190.3 L632.7,1185.9 L628.6,1187.6 L627.1,1183.1 L622.9,1184.5 L621.7,1179.9 L617.4,1181.0 L616.5,1176.3 L612.1,1177.1 L611.5,1172.4 L607.1,1172.9 L606.7,1168.1 L602.3,1168.3 L602.2,1163.6 L597.8,1163.5 L598.0,1158.7 L593.6,1158.3 L594.0,1153.6 L589.7,1152.9 L590.4,1148.2 L586.1,1147.2 L587.1,1142.5 L582.9,1141.3 L584.1,1136.7 L580.0,1135.1 L581.5,1130.7 L577.4,1128.8 L579.2,1124.5 L575.3,1122.3 L577.3,1118.1 L573.5,1115.7 L575.8,1111.7 L572.1,1109.0 L574.6,1105.1 L571.1,1102.2 L573.8,1098.5 L570.5,1095.4 L573.4,1091.8 L570.3,1088.5 L573.4,1085.2 L570.5,1081.6 L573.8,1078.5 L571.1,1074.8 L574.6,1071.9 L572.1,1068.0 L575.8,1065.3 L573.5,1061.3 L577.3,1058.9 L575.3,1054.7 L579.2,1052.5 L577.4,1048.2 L581.5,1046.3 L580.0,1041.9 L584.1,1040.3 L582.9,1035.7 L587.1,1034.5 L586.1,1029.8 L590.4,1028.8 L589.7,1024.1 L594.0,1023.4 L593.6,1018.7 L598.0,1018.3 L597.8,1013.5 L602.2,1013.4 L602.3,1008.7 L606.7,1008.9 L607.1,1004.1 L611.5,1004.6 L612.1,999.9 L616.5,1000.7 L617.4,996.0 L621.7,997.1 L622.9,992.5 L627.1,993.9 L628.6,989.4 L632.7,991.1 L634.4,986.7 L638.5,988.6 L640.4,984.4 L644.3,986.6 L646.6,982.4 L650.3,984.9 L652.8,980.9 L656.4,983.6 L659.1,979.9 L662.5,982.8 L665.4,979.2 L668.7,982.4 L671.8,979.0 L674.9,982.4 L678.2,979.2 L681.1,982.8 L684.5,979.9 L687.2,983.6 L690.8,980.9 L693.3,984.9 L697.0,982.4 L699.3,986.6 L703.2,984.4 L705.1,988.6 L709.2,986.7 L710.9,991.1 L715.0,989.4 L716.5,993.9 L720.7,992.5 L721.9,997.1 L726.2,996.0 L727.1,1000.7 L731.5,999.9 L732.1,1004.6 L736.5,1004.1 L736.9,1008.9 L741.3,1008.7 L741.4,1013.4 L745.8,1013.5 L745.6,1018.3 L750.0,1018.7 L749.6,1023.4 L753.9,1024.1 L753.2,1028.8 L757.5,1029.8 L756.5,1034.5 L760.7,1035.7 L759.5,1040.3 L763.6,1041.9 L762.1,1046.3 L766.2,1048.2 L764.4,1052.5 L768.3,1054.7 L766.3,1058.9 L770.1,1061.3 L767.8,1065.3 L771.5,1068.0 L769.0,1071.9 L772.5,1074.8 L769.8,1078.5 L773.1,1081.6 L770.2,1085.2Z" fill="#e0b484"/>
  <ellipse cx="671.8" cy="1088.5" rx="90" ry="97" fill="none" stroke="#c08b58" stroke-width="22" stroke-dasharray="2.8 3.8" opacity="0.45"/>
  <ellipse cx="686" cy="1100" rx="82" ry="81" fill="url(#toastgrad)"/>
  <circle cx="672.7" cy="1126.3" r="0.5" fill="#a8794a"/><circle cx="696.2" cy="1079.0" r="0.5" fill="#e6b47c"/><circle cx="691.0" cy="1121.7" r="1.1" fill="#a8794a"/><circle cx="689.3" cy="1156.2" r="0.5" fill="#f8e8d0"/><circle cx="617.5" cy="1070.5" r="0.5" fill="#e6b47c"/><circle cx="671.3" cy="1091.4" r="0.7" fill="#a8794a"/><circle cx="659.7" cy="1090.4" r="1.1" fill="#c08d58"/><circle cx="629.9" cy="1085.5" r="0.7" fill="#a8794a"/><circle cx="632.5" cy="1070.3" r="0.9" fill="#a8794a"/><circle cx="667.6" cy="1094.4" r="0.5" fill="#e6b47c"/><circle cx="703.3" cy="1160.2" r="1.1" fill="#f8e8d0"/><circle cx="662.9" cy="1153.4" r="1.1" fill="#d49a62"/><circle cx="664.9" cy="1164.3" r="0.7" fill="#a8794a"/><circle cx="636.3" cy="1075.2" r="0.9" fill="#f6e2c4"/><circle cx="629.1" cy="1118.7" r="0.5" fill="#a8794a"/><circle cx="654.9" cy="1097.7" r="0.9" fill="#c08d58"/><circle cx="731.6" cy="1080.0" r="0.5" fill="#f8e8d0"/><circle cx="622.3" cy="1076.0" r="0.9" fill="#d49a62"/><circle cx="666.0" cy="1045.0" r="1.1" fill="#a8794a"/><circle cx="726.0" cy="1037.8" r="1.1" fill="#f6e2c4"/><circle cx="676.3" cy="1084.0" r="0.9" fill="#f6e2c4"/><circle cx="630.1" cy="1070.6" r="1.1" fill="#d49a62"/><circle cx="670.9" cy="1030.1" r="0.9" fill="#a8794a"/><circle cx="728.6" cy="1083.5" r="0.5" fill="#e0a870"/><circle cx="748.7" cy="1124.1" r="0.7" fill="#f6e2c4"/><circle cx="686.7" cy="1147.4" r="1.1" fill="#a8794a"/><circle cx="710.4" cy="1141.6" r="0.9" fill="#c08d58"/><circle cx="716.1" cy="1036.1" r="0.9" fill="#f6e2c4"/><circle cx="646.4" cy="1123.1" r="1.1" fill="#c08d58"/><circle cx="704.8" cy="1125.9" r="0.7" fill="#f6e2c4"/><circle cx="691.6" cy="1152.5" r="0.7" fill="#d49a62"/><circle cx="680.2" cy="1128.4" r="0.9" fill="#e6b47c"/><circle cx="617.4" cy="1070.0" r="0.5" fill="#e0a870"/><circle cx="740.8" cy="1060.5" r="1.1" fill="#e0a870"/><circle cx="666.1" cy="1114.5" r="1.1" fill="#a8794a"/><circle cx="713.8" cy="1170.1" r="1.1" fill="#c08d58"/><circle cx="731.9" cy="1137.4" r="0.5" fill="#a8794a"/><circle cx="634.6" cy="1077.4" r="0.9" fill="#e6b47c"/><circle cx="756.9" cy="1111.3" r="1.1" fill="#c08d58"/><circle cx="636.1" cy="1044.6" r="0.9" fill="#e0a870"/><circle cx="736.7" cy="1148.7" r="1.1" fill="#e0a870"/><circle cx="663.6" cy="1102.3" r="0.5" fill="#f6e2c4"/><circle cx="664.3" cy="1132.6" r="0.7" fill="#e6b47c"/><circle cx="760.1" cy="1110.7" r="0.9" fill="#c08d58"/><circle cx="659.0" cy="1032.6" r="0.9" fill="#f6e2c4"/><circle cx="727.9" cy="1052.1" r="0.9" fill="#e6b47c"/><circle cx="665.0" cy="1123.0" r="0.7" fill="#e6b47c"/><circle cx="633.4" cy="1086.1" r="0.7" fill="#e6b47c"/><circle cx="714.7" cy="1030.3" r="0.7" fill="#f8e8d0"/><circle cx="689.2" cy="1147.9" r="0.7" fill="#c08d58"/><circle cx="640.5" cy="1095.0" r="0.5" fill="#a8794a"/><circle cx="699.2" cy="1049.5" r="0.7" fill="#f6e2c4"/><circle cx="650.4" cy="1072.7" r="0.9" fill="#d49a62"/><circle cx="707.5" cy="1111.7" r="1.1" fill="#c08d58"/><circle cx="658.1" cy="1144.9" r="0.5" fill="#e0a870"/><circle cx="723.9" cy="1076.0" r="0.5" fill="#f8e8d0"/><circle cx="647.0" cy="1038.8" r="0.7" fill="#e0a870"/><circle cx="724.8" cy="1067.9" r="0.9" fill="#a8794a"/><circle cx="709.8" cy="1029.0" r="1.1" fill="#e0a870"/><circle cx="625.2" cy="1142.9" r="0.7" fill="#c08d58"/><circle cx="698.7" cy="1099.5" r="1.1" fill="#f8e8d0"/><circle cx="652.5" cy="1050.8" r="1.1" fill="#f6e2c4"/><circle cx="714.0" cy="1088.5" r="0.7" fill="#a8794a"/><circle cx="761.4" cy="1106.7" r="0.5" fill="#e6b47c"/><circle cx="685.9" cy="1071.7" r="0.7" fill="#f8e8d0"/><circle cx="695.0" cy="1091.0" r="0.7" fill="#d49a62"/><circle cx="618.9" cy="1099.5" r="0.9" fill="#d49a62"/><circle cx="618.6" cy="1080.9" r="0.5" fill="#f6e2c4"/><circle cx="654.5" cy="1140.8" r="1.1" fill="#f8e8d0"/><circle cx="733.3" cy="1073.5" r="0.7" fill="#e6b47c"/><circle cx="614.4" cy="1095.3" r="0.7" fill="#e6b47c"/><circle cx="754.6" cy="1101.7" r="0.7" fill="#c08d58"/><circle cx="621.5" cy="1110.7" r="0.5" fill="#d49a62"/><circle cx="662.9" cy="1049.7" r="1.1" fill="#f8e8d0"/><circle cx="698.0" cy="1029.7" r="0.5" fill="#c08d58"/><circle cx="691.7" cy="1114.5" r="0.5" fill="#e6b47c"/><circle cx="673.8" cy="1103.7" r="0.5" fill="#e0a870"/><circle cx="651.3" cy="1166.5" r="0.7" fill="#f6e2c4"/><circle cx="676.7" cy="1153.3" r="1.1" fill="#e6b47c"/><circle cx="745.9" cy="1077.2" r="0.9" fill="#e6b47c"/><circle cx="713.0" cy="1078.7" r="1.1" fill="#c08d58"/><circle cx="644.3" cy="1123.8" r="0.9" fill="#a8794a"/><circle cx="662.1" cy="1056.3" r="0.7" fill="#f6e2c4"/><circle cx="677.3" cy="1125.1" r="0.7" fill="#f6e2c4"/><circle cx="657.2" cy="1064.0" r="0.9" fill="#c08d58"/><circle cx="721.2" cy="1092.8" r="0.5" fill="#e0a870"/><circle cx="709.2" cy="1079.8" r="0.7" fill="#c08d58"/><circle cx="665.2" cy="1027.2" r="1.1" fill="#d49a62"/><circle cx="645.6" cy="1121.5" r="0.5" fill="#f6e2c4"/><circle cx="656.3" cy="1132.9" r="1.1" fill="#e0a870"/><circle cx="672.2" cy="1055.0" r="0.9" fill="#e6b47c"/><circle cx="711.0" cy="1093.8" r="0.7" fill="#a8794a"/><circle cx="720.6" cy="1119.9" r="0.7" fill="#d49a62"/><circle cx="688.5" cy="1031.4" r="0.9" fill="#e0a870"/><circle cx="729.5" cy="1158.7" r="1.1" fill="#f6e2c4"/><circle cx="667.1" cy="1135.5" r="0.7" fill="#e0a870"/><circle cx="717.5" cy="1076.0" r="0.5" fill="#f6e2c4"/><circle cx="719.3" cy="1120.4" r="0.7" fill="#a8794a"/><circle cx="683.6" cy="1126.3" r="0.5" fill="#d49a62"/><circle cx="735.6" cy="1098.2" r="0.9" fill="#e6b47c"/><circle cx="724.4" cy="1139.9" r="0.7" fill="#a8794a"/><circle cx="724.6" cy="1092.5" r="0.7" fill="#c08d58"/><circle cx="741.5" cy="1075.2" r="0.7" fill="#d49a62"/><circle cx="626.7" cy="1120.8" r="0.9" fill="#d49a62"/><circle cx="711.3" cy="1028.6" r="0.5" fill="#a8794a"/><circle cx="740.2" cy="1106.2" r="0.7" fill="#e6b47c"/><circle cx="612.7" cy="1111.6" r="0.5" fill="#f6e2c4"/><circle cx="707.2" cy="1054.7" r="1.1" fill="#e6b47c"/><circle cx="710.4" cy="1059.0" r="0.9" fill="#f6e2c4"/><circle cx="694.0" cy="1135.5" r="0.7" fill="#f8e8d0"/><circle cx="734.3" cy="1056.3" r="0.7" fill="#e0a870"/><circle cx="761.9" cy="1095.0" r="0.7" fill="#a8794a"/><circle cx="745.7" cy="1128.1" r="0.9" fill="#e0a870"/><circle cx="697.6" cy="1118.8" r="1.1" fill="#f8e8d0"/><circle cx="610.4" cy="1097.2" r="0.7" fill="#f6e2c4"/><circle cx="672.1" cy="1149.5" r="0.7" fill="#d49a62"/><circle cx="648.9" cy="1113.0" r="0.9" fill="#e6b47c"/><circle cx="679.6" cy="1112.6" r="0.9" fill="#c08d58"/><circle cx="684.4" cy="1101.9" r="1.1" fill="#a8794a"/><circle cx="632.2" cy="1108.5" r="0.7" fill="#c08d58"/><circle cx="680.6" cy="1099.8" r="0.9" fill="#f8e8d0"/><circle cx="727.0" cy="1125.6" r="0.5" fill="#e0a870"/><circle cx="727.9" cy="1105.9" r="0.7" fill="#a8794a"/><circle cx="638.0" cy="1071.7" r="0.7" fill="#f6e2c4"/><circle cx="739.2" cy="1058.1" r="1.1" fill="#f8e8d0"/><circle cx="650.9" cy="1166.8" r="0.7" fill="#d49a62"/><circle cx="676.0" cy="1040.0" r="0.5" fill="#f8e8d0"/><circle cx="723.0" cy="1038.4" r="1.1" fill="#f6e2c4"/><circle cx="669.5" cy="1048.6" r="0.5" fill="#f8e8d0"/><circle cx="659.3" cy="1037.6" r="0.7" fill="#a8794a"/><circle cx="713.5" cy="1105.4" r="0.9" fill="#a8794a"/><circle cx="649.1" cy="1135.7" r="0.5" fill="#f6e2c4"/><circle cx="741.6" cy="1106.5" r="0.7" fill="#e0a870"/><circle cx="681.5" cy="1151.1" r="0.5" fill="#f6e2c4"/><circle cx="752.3" cy="1070.4" r="0.5" fill="#f6e2c4"/><circle cx="620.6" cy="1089.4" r="1.1" fill="#d49a62"/><circle cx="711.7" cy="1035.0" r="0.7" fill="#f6e2c4"/><circle cx="687.5" cy="1063.6" r="1.1" fill="#e0a870"/><circle cx="698.0" cy="1082.7" r="0.9" fill="#f8e8d0"/><circle cx="744.5" cy="1117.5" r="0.7" fill="#a8794a"/><circle cx="650.2" cy="1074.4" r="0.9" fill="#e6b47c"/><circle cx="678.2" cy="1096.5" r="0.5" fill="#e0a870"/><circle cx="678.6" cy="1161.7" r="0.7" fill="#f6e2c4"/><circle cx="621.5" cy="1104.2" r="0.9" fill="#e0a870"/><circle cx="620.3" cy="1114.1" r="0.7" fill="#d49a62"/><circle cx="759.6" cy="1089.9" r="0.5" fill="#d49a62"/><circle cx="618.8" cy="1117.5" r="1.1" fill="#d49a62"/><circle cx="630.3" cy="1147.4" r="0.7" fill="#a8794a"/><circle cx="660.8" cy="1086.0" r="0.9" fill="#d49a62"/><circle cx="732.8" cy="1150.8" r="0.9" fill="#a8794a"/><circle cx="675.3" cy="1065.1" r="1.1" fill="#e0a870"/><circle cx="690.5" cy="1100.7" r="1.1" fill="#f6e2c4"/><circle cx="645.8" cy="1112.7" r="0.7" fill="#e0a870"/><circle cx="662.0" cy="1135.4" r="0.9" fill="#a8794a"/><circle cx="665.8" cy="1139.4" r="1.1" fill="#a8794a"/><circle cx="717.6" cy="1087.6" r="0.5" fill="#f6e2c4"/><circle cx="674.4" cy="1144.8" r="1.1" fill="#e0a870"/><circle cx="744.9" cy="1099.6" r="0.9" fill="#e0a870"/><circle cx="688.5" cy="1029.9" r="0.9" fill="#a8794a"/><circle cx="745.2" cy="1119.7" r="0.7" fill="#c08d58"/><circle cx="735.9" cy="1090.9" r="0.9" fill="#c08d58"/><circle cx="695.9" cy="1033.5" r="1.1" fill="#a8794a"/><circle cx="709.2" cy="1044.3" r="0.7" fill="#f6e2c4"/><circle cx="750.9" cy="1135.5" r="1.1" fill="#e0a870"/><circle cx="664.5" cy="1081.3" r="0.9" fill="#e0a870"/><circle cx="756.5" cy="1122.1" r="0.7" fill="#c08d58"/><circle cx="641.7" cy="1107.7" r="0.9" fill="#d49a62"/><circle cx="680.8" cy="1025.2" r="0.9" fill="#e0a870"/><circle cx="662.5" cy="1065.5" r="1.1" fill="#a8794a"/><circle cx="701.3" cy="1126.5" r="0.7" fill="#e6b47c"/><circle cx="731.0" cy="1070.2" r="0.7" fill="#e0a870"/><circle cx="749.7" cy="1057.9" r="1.1" fill="#e0a870"/><circle cx="707.5" cy="1125.6" r="0.5" fill="#c08d58"/><circle cx="673.3" cy="1119.2" r="0.7" fill="#d49a62"/><circle cx="683.0" cy="1157.2" r="0.5" fill="#f6e2c4"/><circle cx="718.7" cy="1065.9" r="0.7" fill="#e0a870"/><circle cx="677.6" cy="1165.2" r="1.1" fill="#d49a62"/><circle cx="644.8" cy="1079.5" r="0.7" fill="#a8794a"/><circle cx="681.0" cy="1137.5" r="1.1" fill="#f6e2c4"/><circle cx="615.3" cy="1124.7" r="0.5" fill="#c08d58"/><circle cx="749.4" cy="1112.9" r="1.1" fill="#e6b47c"/><circle cx="665.3" cy="1101.3" r="1.1" fill="#e0a870"/><circle cx="686.2" cy="1125.0" r="0.7" fill="#c08d58"/><circle cx="623.2" cy="1091.2" r="1.1" fill="#a8794a"/><circle cx="671.5" cy="1095.2" r="0.7" fill="#c08d58"/><circle cx="672.5" cy="1093.8" r="0.9" fill="#c08d58"/><circle cx="646.9" cy="1060.7" r="1.1" fill="#f6e2c4"/><circle cx="688.1" cy="1076.2" r="0.9" fill="#e6b47c"/><circle cx="717.5" cy="1088.5" r="0.9" fill="#c08d58"/><circle cx="686.7" cy="1097.5" r="0.9" fill="#e0a870"/><circle cx="678.3" cy="1142.0" r="0.7" fill="#e0a870"/><circle cx="630.0" cy="1090.8" r="0.5" fill="#e0a870"/><circle cx="674.0" cy="1059.6" r="0.5" fill="#c08d58"/><circle cx="622.9" cy="1100.7" r="1.1" fill="#a8794a"/><circle cx="683.1" cy="1161.9" r="0.9" fill="#c08d58"/><circle cx="622.0" cy="1102.8" r="1.1" fill="#d49a62"/><circle cx="671.9" cy="1069.2" r="0.9" fill="#f6e2c4"/><circle cx="697.2" cy="1083.7" r="1.1" fill="#c08d58"/><circle cx="659.7" cy="1163.6" r="0.7" fill="#e0a870"/><circle cx="698.0" cy="1165.1" r="0.9" fill="#a8794a"/><circle cx="737.6" cy="1084.1" r="0.7" fill="#c08d58"/><circle cx="613.0" cy="1106.8" r="0.5" fill="#e6b47c"/><circle cx="715.2" cy="1137.8" r="0.7" fill="#a8794a"/><circle cx="714.5" cy="1095.4" r="0.5" fill="#f6e2c4"/><circle cx="730.8" cy="1117.5" r="0.9" fill="#f6e2c4"/><circle cx="702.4" cy="1113.9" r="0.7" fill="#d49a62"/><circle cx="708.6" cy="1157.1" r="1.1" fill="#a8794a"/><circle cx="661.2" cy="1159.8" r="0.9" fill="#d49a62"/><circle cx="662.3" cy="1108.9" r="0.5" fill="#d49a62"/><circle cx="729.5" cy="1123.9" r="0.5" fill="#e6b47c"/><circle cx="720.1" cy="1092.3" r="0.9" fill="#f8e8d0"/><circle cx="716.3" cy="1038.1" r="1.1" fill="#a8794a"/><circle cx="736.3" cy="1115.9" r="0.9" fill="#e6b47c"/><circle cx="715.5" cy="1083.9" r="0.9" fill="#f6e2c4"/><circle cx="696.7" cy="1092.0" r="1.1" fill="#c08d58"/><circle cx="711.5" cy="1038.5" r="0.5" fill="#e0a870"/><circle cx="704.8" cy="1104.1" r="0.5" fill="#d49a62"/><circle cx="692.5" cy="1117.9" r="0.9" fill="#d49a62"/><circle cx="675.5" cy="1173.5" r="0.5" fill="#d49a62"/><circle cx="684.6" cy="1037.0" r="0.9" fill="#d49a62"/><circle cx="752.7" cy="1101.6" r="0.5" fill="#a8794a"/><circle cx="697.6" cy="1077.9" r="1.1" fill="#f8e8d0"/><circle cx="656.9" cy="1124.9" r="1.1" fill="#f8e8d0"/><circle cx="612.1" cy="1103.0" r="0.7" fill="#a8794a"/><circle cx="707.4" cy="1038.3" r="0.7" fill="#e6b47c"/><circle cx="692.2" cy="1170.1" r="1.1" fill="#d49a62"/><circle cx="698.5" cy="1042.8" r="0.7" fill="#e0a870"/><circle cx="686.7" cy="1062.3" r="0.5" fill="#f6e2c4"/><circle cx="741.8" cy="1111.9" r="0.9" fill="#c08d58"/><circle cx="757.6" cy="1091.2" r="0.5" fill="#d49a62"/><circle cx="661.2" cy="1075.6" r="1.1" fill="#e0a870"/><circle cx="761.5" cy="1094.6" r="0.7" fill="#c08d58"/><circle cx="721.0" cy="1138.2" r="0.7" fill="#f6e2c4"/><circle cx="620.4" cy="1084.0" r="0.5" fill="#f8e8d0"/><circle cx="708.5" cy="1065.4" r="0.9" fill="#d49a62"/><circle cx="685.0" cy="1138.7" r="1.1" fill="#c08d58"/><circle cx="700.6" cy="1133.8" r="0.9" fill="#e6b47c"/><circle cx="693.4" cy="1117.9" r="0.9" fill="#c08d58"/><circle cx="649.1" cy="1098.3" r="0.5" fill="#f6e2c4"/><circle cx="671.6" cy="1103.3" r="0.5" fill="#e0a870"/><circle cx="713.4" cy="1075.5" r="1.1" fill="#d49a62"/><circle cx="726.3" cy="1110.3" r="0.5" fill="#a8794a"/><circle cx="714.1" cy="1169.5" r="0.7" fill="#a8794a"/><circle cx="636.3" cy="1150.8" r="1.1" fill="#e6b47c"/><circle cx="681.8" cy="1166.8" r="0.5" fill="#a8794a"/><circle cx="644.0" cy="1051.4" r="0.9" fill="#c08d58"/><circle cx="729.5" cy="1110.3" r="0.5" fill="#c08d58"/><circle cx="701.0" cy="1100.0" r="0.7" fill="#f8e8d0"/><circle cx="729.8" cy="1103.1" r="0.9" fill="#c08d58"/><circle cx="670.5" cy="1085.4" r="0.5" fill="#f8e8d0"/><circle cx="632.6" cy="1101.4" r="1.1" fill="#a8794a"/><circle cx="703.8" cy="1040.7" r="0.7" fill="#f6e2c4"/><circle cx="625.3" cy="1087.0" r="1.1" fill="#f6e2c4"/><circle cx="675.9" cy="1174.7" r="0.9" fill="#e0a870"/><circle cx="727.1" cy="1087.7" r="0.9" fill="#e0a870"/><circle cx="624.2" cy="1135.3" r="0.9" fill="#f6e2c4"/><circle cx="707.3" cy="1161.2" r="0.7" fill="#a8794a"/><circle cx="658.2" cy="1112.1" r="0.5" fill="#f8e8d0"/><circle cx="735.2" cy="1131.0" r="0.9" fill="#e0a870"/><circle cx="690.0" cy="1072.9" r="0.5" fill="#e6b47c"/><circle cx="729.1" cy="1153.2" r="1.1" fill="#a8794a"/><circle cx="619.7" cy="1067.7" r="0.7" fill="#c08d58"/><circle cx="668.2" cy="1124.9" r="0.7" fill="#a8794a"/><circle cx="727.7" cy="1133.5" r="0.7" fill="#d49a62"/><circle cx="738.2" cy="1152.6" r="1.1" fill="#d49a62"/><circle cx="755.8" cy="1124.0" r="1.1" fill="#a8794a"/><circle cx="735.9" cy="1066.2" r="0.7" fill="#f6e2c4"/><circle cx="694.1" cy="1065.2" r="1.1" fill="#e6b47c"/><circle cx="725.8" cy="1043.2" r="0.7" fill="#e6b47c"/><circle cx="695.7" cy="1147.0" r="0.7" fill="#e0a870"/><circle cx="667.2" cy="1122.7" r="0.7" fill="#a8794a"/><circle cx="738.5" cy="1053.6" r="0.5" fill="#f6e2c4"/><circle cx="699.9" cy="1077.9" r="1.1" fill="#e6b47c"/><circle cx="725.5" cy="1045.6" r="1.1" fill="#d49a62"/><circle cx="642.5" cy="1075.4" r="0.9" fill="#e0a870"/><circle cx="653.5" cy="1099.3" r="0.5" fill="#e6b47c"/><circle cx="738.2" cy="1095.5" r="1.1" fill="#f8e8d0"/><circle cx="634.9" cy="1053.5" r="0.7" fill="#f8e8d0"/><circle cx="661.2" cy="1104.2" r="0.7" fill="#d49a62"/><circle cx="664.9" cy="1109.7" r="1.1" fill="#e6b47c"/><circle cx="670.5" cy="1099.0" r="0.7" fill="#a8794a"/><circle cx="724.0" cy="1080.0" r="0.5" fill="#a8794a"/><circle cx="686.9" cy="1028.3" r="0.7" fill="#a8794a"/><circle cx="733.8" cy="1040.8" r="0.5" fill="#c08d58"/><circle cx="734.9" cy="1152.5" r="0.9" fill="#f8e8d0"/><circle cx="713.0" cy="1084.5" r="0.7" fill="#a8794a"/><circle cx="715.9" cy="1048.6" r="0.9" fill="#c08d58"/><circle cx="659.1" cy="1153.1" r="1.1" fill="#c08d58"/><circle cx="684.0" cy="1174.4" r="1.1" fill="#c08d58"/><circle cx="635.5" cy="1067.5" r="0.7" fill="#d49a62"/><circle cx="662.2" cy="1124.3" r="1.1" fill="#c08d58"/><circle cx="659.5" cy="1069.7" r="0.9" fill="#e0a870"/><circle cx="719.2" cy="1158.6" r="0.5" fill="#f8e8d0"/><circle cx="625.9" cy="1088.4" r="0.9" fill="#f8e8d0"/><circle cx="632.9" cy="1115.9" r="0.5" fill="#d49a62"/><circle cx="746.9" cy="1097.3" r="1.1" fill="#f6e2c4"/><circle cx="697.7" cy="1062.7" r="0.9" fill="#e6b47c"/><circle cx="712.8" cy="1134.7" r="0.5" fill="#e0a870"/><circle cx="693.5" cy="1159.0" r="0.5" fill="#d49a62"/><circle cx="702.4" cy="1065.4" r="0.9" fill="#f6e2c4"/><circle cx="700.1" cy="1100.2" r="0.7" fill="#d49a62"/><circle cx="648.3" cy="1066.8" r="0.9" fill="#a8794a"/><circle cx="710.7" cy="1126.7" r="0.5" fill="#a8794a"/><circle cx="740.5" cy="1119.1" r="0.9" fill="#a8794a"/><circle cx="630.5" cy="1092.0" r="1.1" fill="#e6b47c"/><circle cx="677.1" cy="1126.3" r="0.9" fill="#e6b47c"/><circle cx="700.5" cy="1073.4" r="0.5" fill="#f8e8d0"/><circle cx="687.2" cy="1129.3" r="0.5" fill="#a8794a"/><circle cx="639.7" cy="1046.0" r="0.9" fill="#e0a870"/><circle cx="714.5" cy="1030.9" r="0.5" fill="#f6e2c4"/><circle cx="717.3" cy="1035.3" r="1.1" fill="#e6b47c"/><circle cx="746.7" cy="1075.0" r="0.7" fill="#c08d58"/><circle cx="699.2" cy="1090.9" r="0.5" fill="#e0a870"/><circle cx="698.1" cy="1127.8" r="0.5" fill="#a8794a"/><circle cx="638.7" cy="1060.0" r="0.7" fill="#c08d58"/><circle cx="638.7" cy="1128.3" r="1.1" fill="#f8e8d0"/><circle cx="644.5" cy="1064.7" r="0.5" fill="#d49a62"/><circle cx="632.2" cy="1046.2" r="1.1" fill="#f6e2c4"/><circle cx="640.3" cy="1088.9" r="1.1" fill="#f6e2c4"/><circle cx="704.6" cy="1088.7" r="1.1" fill="#c08d58"/><circle cx="689.8" cy="1124.3" r="0.7" fill="#f6e2c4"/><circle cx="729.2" cy="1110.6" r="0.9" fill="#f6e2c4"/><circle cx="743.9" cy="1119.6" r="1.1" fill="#f6e2c4"/><circle cx="699.3" cy="1046.7" r="0.9" fill="#d49a62"/><circle cx="638.6" cy="1042.0" r="0.7" fill="#a8794a"/><circle cx="692.9" cy="1093.6" r="0.9" fill="#c08d58"/><circle cx="704.8" cy="1071.4" r="0.7" fill="#f6e2c4"/><circle cx="715.0" cy="1083.1" r="1.1" fill="#d49a62"/><circle cx="647.9" cy="1072.2" r="1.1" fill="#e0a870"/><circle cx="720.3" cy="1046.5" r="0.5" fill="#e0a870"/><circle cx="721.7" cy="1089.9" r="0.9" fill="#f8e8d0"/><circle cx="700.3" cy="1158.1" r="0.5" fill="#e6b47c"/><circle cx="710.7" cy="1084.7" r="0.5" fill="#a8794a"/><circle cx="744.0" cy="1145.4" r="0.9" fill="#c08d58"/><circle cx="681.9" cy="1087.3" r="0.7" fill="#f6e2c4"/><circle cx="676.2" cy="1087.7" r="0.5" fill="#f6e2c4"/><circle cx="754.0" cy="1120.3" r="0.9" fill="#c08d58"/><circle cx="714.6" cy="1037.4" r="0.5" fill="#f8e8d0"/><circle cx="688.3" cy="1036.1" r="1.1" fill="#a8794a"/><circle cx="686.7" cy="1134.2" r="0.5" fill="#a8794a"/><circle cx="755.6" cy="1077.3" r="0.5" fill="#f8e8d0"/><circle cx="686.5" cy="1039.7" r="1.1" fill="#a8794a"/><circle cx="731.9" cy="1150.0" r="0.7" fill="#d49a62"/><circle cx="665.0" cy="1144.8" r="0.5" fill="#d49a62"/><circle cx="684.3" cy="1140.3" r="0.9" fill="#d49a62"/><circle cx="693.2" cy="1041.6" r="1.1" fill="#f8e8d0"/><circle cx="670.5" cy="1163.7" r="1.1" fill="#a8794a"/><circle cx="623.8" cy="1125.9" r="0.9" fill="#e0a870"/><circle cx="670.2" cy="1046.6" r="0.7" fill="#f6e2c4"/><circle cx="701.0" cy="1082.6" r="0.9" fill="#c08d58"/><circle cx="634.9" cy="1121.5" r="0.9" fill="#f8e8d0"/><circle cx="686.1" cy="1082.4" r="0.9" fill="#e0a870"/><circle cx="738.8" cy="1135.8" r="0.7" fill="#e0a870"/><circle cx="623.2" cy="1059.2" r="0.9" fill="#e6b47c"/><circle cx="724.4" cy="1086.0" r="0.7" fill="#f6e2c4"/><circle cx="689.6" cy="1130.7" r="0.5" fill="#e0a870"/><circle cx="701.1" cy="1038.5" r="0.5" fill="#f6e2c4"/><circle cx="675.0" cy="1120.7" r="1.1" fill="#f6e2c4"/><circle cx="748.0" cy="1136.8" r="0.5" fill="#d49a62"/><circle cx="696.7" cy="1137.4" r="0.7" fill="#e0a870"/><circle cx="746.6" cy="1093.4" r="1.1" fill="#c08d58"/><circle cx="620.6" cy="1087.0" r="0.5" fill="#d49a62"/><circle cx="637.7" cy="1073.1" r="1.1" fill="#f6e2c4"/><circle cx="644.8" cy="1085.7" r="1.1" fill="#e0a870"/><circle cx="671.4" cy="1064.3" r="0.7" fill="#c08d58"/><circle cx="655.0" cy="1152.5" r="0.7" fill="#e6b47c"/><circle cx="701.1" cy="1138.9" r="0.7" fill="#f6e2c4"/><circle cx="707.3" cy="1131.3" r="0.9" fill="#e6b47c"/><circle cx="655.5" cy="1095.8" r="0.9" fill="#c08d58"/><circle cx="681.9" cy="1174.0" r="0.5" fill="#c08d58"/><circle cx="709.8" cy="1094.3" r="1.1" fill="#c08d58"/><circle cx="754.1" cy="1093.1" r="0.9" fill="#e0a870"/><circle cx="682.2" cy="1124.8" r="0.5" fill="#d49a62"/><circle cx="698.9" cy="1145.5" r="0.5" fill="#a8794a"/><circle cx="631.0" cy="1140.0" r="0.7" fill="#e6b47c"/><circle cx="727.5" cy="1095.1" r="0.5" fill="#c08d58"/><circle cx="683.0" cy="1165.1" r="0.5" fill="#f6e2c4"/><circle cx="689.4" cy="1170.0" r="1.1" fill="#f8e8d0"/><circle cx="694.8" cy="1163.9" r="0.7" fill="#f6e2c4"/><circle cx="697.3" cy="1124.3" r="1.1" fill="#d49a62"/><circle cx="682.0" cy="1163.4" r="1.1" fill="#c08d58"/><circle cx="699.1" cy="1037.3" r="0.7" fill="#d49a62"/><circle cx="717.2" cy="1057.3" r="0.5" fill="#e6b47c"/><circle cx="720.8" cy="1057.6" r="0.7" fill="#f6e2c4"/><circle cx="682.3" cy="1106.9" r="1.1" fill="#a8794a"/><circle cx="741.0" cy="1113.3" r="0.7" fill="#f6e2c4"/><circle cx="700.8" cy="1027.9" r="0.9" fill="#a8794a"/><circle cx="715.8" cy="1058.0" r="0.7" fill="#f6e2c4"/><circle cx="676.4" cy="1101.5" r="0.9" fill="#e6b47c"/><circle cx="649.6" cy="1154.5" r="1.1" fill="#c08d58"/><circle cx="718.9" cy="1098.0" r="0.5" fill="#f6e2c4"/><circle cx="731.6" cy="1095.6" r="0.5" fill="#d49a62"/><circle cx="678.6" cy="1147.4" r="0.5" fill="#a8794a"/><circle cx="642.6" cy="1124.1" r="0.9" fill="#e6b47c"/><circle cx="682.5" cy="1135.8" r="1.1" fill="#e6b47c"/><circle cx="761.4" cy="1086.5" r="1.1" fill="#e0a870"/><circle cx="692.5" cy="1126.5" r="0.5" fill="#f8e8d0"/><circle cx="696.1" cy="1068.2" r="0.7" fill="#f8e8d0"/><circle cx="730.5" cy="1089.9" r="1.1" fill="#e0a870"/><circle cx="752.9" cy="1098.4" r="0.7" fill="#f8e8d0"/><circle cx="709.0" cy="1060.9" r="0.7" fill="#d49a62"/><circle cx="667.9" cy="1039.7" r="1.1" fill="#f6e2c4"/><circle cx="687.6" cy="1103.6" r="0.9" fill="#d49a62"/><circle cx="687.3" cy="1141.6" r="1.1" fill="#e0a870"/><circle cx="630.8" cy="1126.3" r="0.9" fill="#c08d58"/><circle cx="750.0" cy="1069.6" r="0.5" fill="#a8794a"/><circle cx="720.4" cy="1036.3" r="0.7" fill="#e6b47c"/><circle cx="715.9" cy="1047.4" r="0.5" fill="#f6e2c4"/><circle cx="760.7" cy="1105.3" r="0.9" fill="#d49a62"/><circle cx="640.6" cy="1063.7" r="0.7" fill="#c08d58"/><circle cx="693.4" cy="1056.0" r="0.7" fill="#c08d58"/><circle cx="742.3" cy="1061.8" r="0.7" fill="#e6b47c"/><circle cx="732.4" cy="1062.6" r="0.5" fill="#f6e2c4"/><circle cx="732.4" cy="1067.5" r="0.9" fill="#c08d58"/><circle cx="650.6" cy="1101.2" r="0.5" fill="#f6e2c4"/><circle cx="719.5" cy="1047.4" r="0.5" fill="#e6b47c"/><circle cx="722.6" cy="1133.3" r="0.7" fill="#e0a870"/><circle cx="667.4" cy="1100.8" r="1.1" fill="#c08d58"/><circle cx="674.3" cy="1064.2" r="0.7" fill="#e6b47c"/><circle cx="632.7" cy="1061.9" r="0.7" fill="#f8e8d0"/><circle cx="658.5" cy="1157.1" r="1.1" fill="#f6e2c4"/><circle cx="670.8" cy="1149.5" r="1.1" fill="#e0a870"/><circle cx="749.1" cy="1100.0" r="0.7" fill="#f6e2c4"/><circle cx="646.5" cy="1146.9" r="0.5" fill="#e6b47c"/><circle cx="749.2" cy="1118.5" r="0.9" fill="#f8e8d0"/><circle cx="740.5" cy="1093.8" r="1.1" fill="#f8e8d0"/><circle cx="697.3" cy="1091.6" r="1.1" fill="#f6e2c4"/><circle cx="702.5" cy="1116.7" r="0.9" fill="#d49a62"/><circle cx="631.0" cy="1108.8" r="0.7" fill="#d49a62"/><circle cx="640.2" cy="1119.5" r="0.5" fill="#f8e8d0"/><circle cx="674.9" cy="1143.8" r="1.1" fill="#e0a870"/><circle cx="647.7" cy="1165.1" r="0.9" fill="#c08d58"/><circle cx="647.4" cy="1044.3" r="0.9" fill="#c08d58"/><circle cx="668.8" cy="1137.9" r="0.5" fill="#f8e8d0"/><circle cx="734.5" cy="1098.9" r="1.1" fill="#e6b47c"/><circle cx="642.7" cy="1078.5" r="0.5" fill="#a8794a"/><circle cx="752.7" cy="1119.8" r="1.1" fill="#e6b47c"/><circle cx="687.9" cy="1081.5" r="1.1" fill="#e6b47c"/><circle cx="724.0" cy="1149.7" r="0.5" fill="#c08d58"/><circle cx="745.3" cy="1114.8" r="0.7" fill="#a8794a"/><circle cx="649.0" cy="1039.5" r="1.1" fill="#f8e8d0"/><circle cx="745.8" cy="1143.2" r="0.5" fill="#d49a62"/><circle cx="705.8" cy="1079.6" r="0.9" fill="#e6b47c"/><circle cx="668.3" cy="1031.8" r="0.7" fill="#e0a870"/><circle cx="696.7" cy="1102.3" r="0.5" fill="#e0a870"/><circle cx="672.1" cy="1093.8" r="0.5" fill="#f8e8d0"/><circle cx="707.6" cy="1046.6" r="1.1" fill="#e0a870"/><circle cx="743.8" cy="1125.6" r="0.7" fill="#e0a870"/><circle cx="693.1" cy="1044.3" r="0.5" fill="#f6e2c4"/><circle cx="614.4" cy="1112.5" r="0.5" fill="#e0a870"/><circle cx="749.5" cy="1101.9" r="0.5" fill="#f8e8d0"/><circle cx="746.9" cy="1137.2" r="0.7" fill="#e0a870"/><circle cx="750.7" cy="1107.2" r="0.7" fill="#e0a870"/><circle cx="682.6" cy="1067.3" r="0.5" fill="#d49a62"/><circle cx="695.8" cy="1036.7" r="0.7" fill="#f6e2c4"/><circle cx="688.4" cy="1059.0" r="1.1" fill="#e0a870"/><circle cx="650.9" cy="1037.4" r="0.5" fill="#f6e2c4"/><circle cx="704.5" cy="1103.7" r="0.5" fill="#e0a870"/><circle cx="661.4" cy="1160.1" r="0.7" fill="#f8e8d0"/><circle cx="716.5" cy="1049.0" r="0.9" fill="#d49a62"/><circle cx="748.2" cy="1079.5" r="1.1" fill="#f6e2c4"/><circle cx="723.8" cy="1164.5" r="0.5" fill="#d49a62"/><circle cx="715.8" cy="1091.2" r="1.1" fill="#e0a870"/><circle cx="634.7" cy="1144.2" r="0.9" fill="#f8e8d0"/><circle cx="687.3" cy="1056.2" r="0.9" fill="#a8794a"/><circle cx="641.3" cy="1057.6" r="0.9" fill="#f8e8d0"/><circle cx="626.2" cy="1053.7" r="0.7" fill="#e6b47c"/><circle cx="715.1" cy="1049.7" r="0.7" fill="#e0a870"/><circle cx="650.2" cy="1130.2" r="0.7" fill="#f8e8d0"/><circle cx="625.2" cy="1119.0" r="0.9" fill="#d49a62"/><circle cx="682.6" cy="1129.9" r="0.5" fill="#d49a62"/><circle cx="720.6" cy="1040.8" r="0.7" fill="#d49a62"/><circle cx="753.8" cy="1089.6" r="1.1" fill="#d49a62"/><circle cx="630.9" cy="1088.0" r="1.1" fill="#f8e8d0"/><circle cx="635.8" cy="1145.5" r="0.7" fill="#d49a62"/><circle cx="636.5" cy="1061.1" r="1.1" fill="#f6e2c4"/><circle cx="696.4" cy="1136.9" r="0.5" fill="#f8e8d0"/><circle cx="643.7" cy="1136.9" r="0.9" fill="#f8e8d0"/><circle cx="730.8" cy="1118.4" r="0.9" fill="#f8e8d0"/><circle cx="633.5" cy="1092.8" r="0.7" fill="#c08d58"/><circle cx="691.4" cy="1122.4" r="0.9" fill="#d49a62"/><circle cx="645.4" cy="1078.6" r="0.7" fill="#c08d58"/><circle cx="759.7" cy="1120.9" r="0.9" fill="#f8e8d0"/><circle cx="734.0" cy="1137.3" r="0.5" fill="#c08d58"/><circle cx="680.6" cy="1112.1" r="0.9" fill="#e6b47c"/><circle cx="667.6" cy="1085.5" r="0.7" fill="#f8e8d0"/><circle cx="721.7" cy="1060.6" r="0.7" fill="#d49a62"/><circle cx="722.3" cy="1081.9" r="0.5" fill="#e0a870"/><circle cx="693.5" cy="1031.8" r="0.7" fill="#d49a62"/><circle cx="710.8" cy="1063.3" r="0.7" fill="#e0a870"/><circle cx="701.0" cy="1108.6" r="0.9" fill="#f8e8d0"/><circle cx="671.2" cy="1049.1" r="0.5" fill="#f8e8d0"/><circle cx="646.5" cy="1072.4" r="0.5" fill="#f6e2c4"/><circle cx="723.7" cy="1090.3" r="0.7" fill="#f6e2c4"/><circle cx="748.3" cy="1138.9" r="1.1" fill="#c08d58"/><circle cx="656.9" cy="1109.7" r="0.7" fill="#f6e2c4"/><circle cx="688.7" cy="1114.7" r="0.9" fill="#d49a62"/><circle cx="739.2" cy="1120.5" r="0.5" fill="#f8e8d0"/><circle cx="720.1" cy="1081.3" r="1.1" fill="#a8794a"/><circle cx="720.9" cy="1125.4" r="0.5" fill="#c08d58"/><circle cx="667.4" cy="1062.8" r="1.1" fill="#f8e8d0"/><circle cx="655.7" cy="1057.4" r="0.9" fill="#d49a62"/><circle cx="649.8" cy="1129.6" r="1.1" fill="#c08d58"/><circle cx="621.6" cy="1124.5" r="0.5" fill="#e0a870"/><circle cx="679.1" cy="1067.2" r="0.5" fill="#c08d58"/><circle cx="718.4" cy="1084.4" r="0.9" fill="#f6e2c4"/><circle cx="718.8" cy="1139.0" r="0.5" fill="#e0a870"/><circle cx="719.3" cy="1049.7" r="1.1" fill="#d49a62"/><circle cx="669.6" cy="1132.9" r="0.5" fill="#f6e2c4"/><circle cx="656.5" cy="1132.6" r="0.5" fill="#c08d58"/><circle cx="673.1" cy="1045.0" r="0.7" fill="#e0a870"/><circle cx="713.3" cy="1071.6" r="1.1" fill="#c08d58"/><circle cx="708.3" cy="1132.8" r="0.9" fill="#d49a62"/><circle cx="699.1" cy="1063.5" r="0.5" fill="#d49a62"/><circle cx="634.7" cy="1114.3" r="0.7" fill="#e6b47c"/><circle cx="754.1" cy="1125.1" r="0.7" fill="#e6b47c"/><circle cx="645.3" cy="1105.7" r="0.9" fill="#f8e8d0"/><circle cx="699.9" cy="1143.7" r="0.9" fill="#c08d58"/><circle cx="707.4" cy="1089.3" r="0.9" fill="#e0a870"/><circle cx="700.6" cy="1089.0" r="0.9" fill="#c08d58"/><circle cx="695.6" cy="1098.7" r="0.9" fill="#e6b47c"/><circle cx="688.1" cy="1102.6" r="0.9" fill="#c08d58"/><circle cx="676.1" cy="1111.8" r="1.1" fill="#c08d58"/><circle cx="680.5" cy="1131.8" r="0.7" fill="#e6b47c"/><circle cx="694.3" cy="1036.6" r="0.7" fill="#e6b47c"/><circle cx="705.9" cy="1110.7" r="1.1" fill="#f8e8d0"/><circle cx="680.8" cy="1134.0" r="0.7" fill="#e6b47c"/><circle cx="683.3" cy="1107.1" r="1.1" fill="#f8e8d0"/><circle cx="682.8" cy="1082.4" r="0.9" fill="#d49a62"/><circle cx="673.8" cy="1159.4" r="1.1" fill="#a8794a"/><circle cx="758.9" cy="1107.0" r="1.1" fill="#c08d58"/><circle cx="713.5" cy="1071.8" r="0.7" fill="#e6b47c"/><circle cx="708.8" cy="1060.0" r="0.7" fill="#f6e2c4"/><circle cx="645.1" cy="1142.3" r="0.5" fill="#d49a62"/><circle cx="635.1" cy="1093.7" r="0.5" fill="#a8794a"/><circle cx="662.4" cy="1129.4" r="0.9" fill="#f8e8d0"/><circle cx="674.5" cy="1054.5" r="0.5" fill="#d49a62"/><circle cx="738.3" cy="1046.9" r="1.1" fill="#e0a870"/><circle cx="630.3" cy="1095.4" r="0.7" fill="#a8794a"/><circle cx="686.9" cy="1122.6" r="0.7" fill="#c08d58"/><circle cx="716.7" cy="1122.8" r="0.5" fill="#a8794a"/><circle cx="738.8" cy="1136.1" r="0.7" fill="#d49a62"/><circle cx="745.1" cy="1106.5" r="1.1" fill="#e6b47c"/><circle cx="689.7" cy="1150.4" r="0.9" fill="#f8e8d0"/><circle cx="713.0" cy="1117.9" r="0.9" fill="#a8794a"/><circle cx="628.6" cy="1112.7" r="0.9" fill="#a8794a"/><circle cx="721.2" cy="1133.5" r="0.7" fill="#e6b47c"/><circle cx="626.3" cy="1061.6" r="0.7" fill="#f6e2c4"/><circle cx="626.5" cy="1071.0" r="0.7" fill="#f8e8d0"/><circle cx="746.8" cy="1107.0" r="1.1" fill="#e6b47c"/><circle cx="715.8" cy="1053.5" r="1.1" fill="#a8794a"/><circle cx="693.5" cy="1056.5" r="0.7" fill="#f8e8d0"/><circle cx="660.2" cy="1143.1" r="0.9" fill="#f8e8d0"/><circle cx="639.3" cy="1133.2" r="0.9" fill="#e6b47c"/><circle cx="724.3" cy="1149.8" r="0.9" fill="#c08d58"/><circle cx="729.0" cy="1055.1" r="0.5" fill="#d49a62"/><circle cx="711.8" cy="1120.8" r="0.9" fill="#e0a870"/><circle cx="705.1" cy="1159.1" r="0.7" fill="#c08d58"/><circle cx="643.5" cy="1122.8" r="1.1" fill="#f6e2c4"/><circle cx="758.8" cy="1121.7" r="0.5" fill="#a8794a"/><circle cx="726.2" cy="1055.3" r="0.9" fill="#f6e2c4"/><circle cx="614.7" cy="1080.9" r="0.5" fill="#d49a62"/><circle cx="692.5" cy="1106.1" r="0.7" fill="#a8794a"/><circle cx="676.1" cy="1140.8" r="0.7" fill="#a8794a"/><circle cx="755.9" cy="1127.5" r="0.9" fill="#a8794a"/><circle cx="631.1" cy="1111.6" r="0.7" fill="#e0a870"/><circle cx="705.8" cy="1119.3" r="0.9" fill="#e0a870"/><circle cx="650.4" cy="1081.5" r="0.5" fill="#f6e2c4"/><circle cx="618.6" cy="1080.1" r="0.7" fill="#f6e2c4"/><circle cx="642.9" cy="1136.7" r="0.9" fill="#e0a870"/><circle cx="718.9" cy="1073.7" r="1.1" fill="#e0a870"/><circle cx="691.7" cy="1087.9" r="0.9" fill="#c08d58"/><circle cx="707.3" cy="1151.9" r="1.1" fill="#a8794a"/><circle cx="713.5" cy="1086.0" r="0.7" fill="#d49a62"/><circle cx="635.5" cy="1081.5" r="0.9" fill="#c08d58"/><circle cx="667.0" cy="1163.9" r="0.7" fill="#e6b47c"/><circle cx="751.5" cy="1128.8" r="1.1" fill="#f6e2c4"/><circle cx="730.2" cy="1117.9" r="1.1" fill="#d49a62"/><circle cx="683.7" cy="1075.0" r="0.7" fill="#f6e2c4"/><circle cx="683.8" cy="1070.3" r="0.9" fill="#f6e2c4"/><circle cx="648.1" cy="1149.9" r="0.9" fill="#f8e8d0"/><circle cx="698.6" cy="1080.2" r="1.1" fill="#d49a62"/><circle cx="700.1" cy="1037.7" r="0.7" fill="#e0a870"/><circle cx="689.5" cy="1096.4" r="0.5" fill="#e0a870"/><circle cx="624.8" cy="1145.4" r="0.7" fill="#e0a870"/><circle cx="709.8" cy="1067.6" r="0.5" fill="#e0a870"/><circle cx="724.1" cy="1049.3" r="0.9" fill="#f6e2c4"/><circle cx="658.6" cy="1136.0" r="1.1" fill="#f6e2c4"/><circle cx="656.2" cy="1160.5" r="1.1" fill="#e0a870"/><circle cx="655.1" cy="1111.2" r="0.9" fill="#f8e8d0"/><circle cx="721.7" cy="1145.5" r="0.7" fill="#a8794a"/><circle cx="705.2" cy="1060.8" r="0.7" fill="#d49a62"/><circle cx="700.2" cy="1147.5" r="0.5" fill="#a8794a"/><circle cx="741.2" cy="1116.7" r="1.1" fill="#d49a62"/><circle cx="745.3" cy="1068.0" r="1.1" fill="#e6b47c"/><circle cx="716.0" cy="1042.5" r="1.1" fill="#e0a870"/><circle cx="670.9" cy="1103.4" r="0.9" fill="#e0a870"/><circle cx="745.8" cy="1079.9" r="0.7" fill="#a8794a"/><circle cx="640.2" cy="1128.9" r="0.7" fill="#c08d58"/><circle cx="738.2" cy="1088.3" r="1.1" fill="#f8e8d0"/>
  <path d="M731.9,1035.3 L738.7,1040.6 L745.0,1046.6 L750.5,1053.3 L755.3,1060.5 L759.2,1068.2 L762.3,1076.2 L764.5,1084.6 L765.7,1093.1 L766.0,1101.7 L765.3,1110.3 L763.7,1118.8 L761.2,1127.0 L757.7,1134.9 L753.5,1142.4 L748.4,1149.4 L742.6,1155.9 L736.1,1161.6 L729.0,1166.6 L721.4,1170.9 L713.4,1174.2" fill="none" stroke="#f4eadc" stroke-width="4" opacity="0.75"/>
  <!-- left hand -->
  <path d="M578,980 C590,968 612,960 634,958 C640,975 642,1000 640,1024 C638,1033 628,1036 620,1030 C614,1018 610,1008 598,1006 C588,1006 580,1002 578,980 Z" fill="url(#handgrad)"/>
  </g>
</g>
</svg>
</body></html>
